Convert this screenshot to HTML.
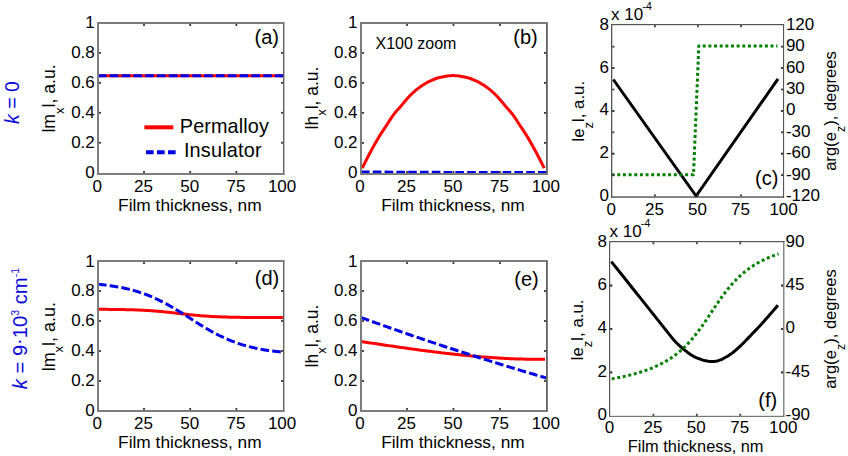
<!DOCTYPE html><html><head><meta charset="utf-8"><style>html,body{margin:0;padding:0;background:#fff;}svg{display:block;}</style></head><body>
<svg width="848" height="456" viewBox="0 0 848 456" font-family='"Liberation Sans", sans-serif' fill="#000">
<rect width="848" height="456" fill="#fff"/>
<polyline points="98.00,75.85 283.70,75.85" fill="none" stroke="#ff0000" stroke-width="3" stroke-linecap="butt" stroke-linejoin="round"/>
<polyline points="98.00,75.85 283.70,75.85" fill="none" stroke="#0000e6" stroke-width="3" stroke-dasharray="8.6 3.2" stroke-linecap="butt" stroke-linejoin="round"/>
<rect x="97" y="22" width="2" height="153" fill="#7c7c7c"/>
<rect x="283" y="22" width="1.4" height="153" fill="#606060"/>
<rect x="97" y="22" width="187.39999999999998" height="2" fill="#7c7c7c"/>
<rect x="97" y="173" width="187.39999999999998" height="2" fill="#7c7c7c"/>
<text x="97.30" y="192.30" font-size="17" text-anchor="middle">0</text>
<rect x="143.10" y="171" width="1.8" height="2" fill="#3a3a3a"/>
<rect x="143.10" y="24" width="1.8" height="2" fill="#3a3a3a"/>
<text x="143.50" y="192.30" font-size="17" text-anchor="middle">25</text>
<rect x="189.30" y="171" width="1.8" height="2" fill="#3a3a3a"/>
<rect x="189.30" y="24" width="1.8" height="2" fill="#3a3a3a"/>
<text x="189.70" y="192.30" font-size="17" text-anchor="middle">50</text>
<rect x="235.50" y="171" width="1.8" height="2" fill="#3a3a3a"/>
<rect x="235.50" y="24" width="1.8" height="2" fill="#3a3a3a"/>
<text x="235.90" y="192.30" font-size="17" text-anchor="middle">75</text>
<text x="282.10" y="192.30" font-size="17" text-anchor="middle">100</text>
<text x="94.80" y="178.10" font-size="17" text-anchor="end">0</text>
<rect x="99" y="141.84" width="2" height="1.8" fill="#3a3a3a"/>
<rect x="281" y="141.84" width="2" height="1.8" fill="#3a3a3a"/>
<text x="94.80" y="148.14" font-size="17" text-anchor="end">0.2</text>
<rect x="99" y="111.88" width="2" height="1.8" fill="#3a3a3a"/>
<rect x="281" y="111.88" width="2" height="1.8" fill="#3a3a3a"/>
<text x="94.80" y="118.18" font-size="17" text-anchor="end">0.4</text>
<rect x="99" y="81.92" width="2" height="1.8" fill="#3a3a3a"/>
<rect x="281" y="81.92" width="2" height="1.8" fill="#3a3a3a"/>
<text x="94.80" y="88.22" font-size="17" text-anchor="end">0.6</text>
<rect x="99" y="51.96" width="2" height="1.8" fill="#3a3a3a"/>
<rect x="281" y="51.96" width="2" height="1.8" fill="#3a3a3a"/>
<text x="94.80" y="58.26" font-size="17" text-anchor="end">0.8</text>
<text x="94.80" y="28.30" font-size="17" text-anchor="end">1</text>
<text x="189.85" y="211.00" font-size="17.35" text-anchor="middle">Film thickness, nm</text>
<text transform="translate(55.2,98.5) rotate(-90)" font-size="17.6" text-anchor="middle" fill="#000">lm<tspan dy="8.3" font-size="13">x</tspan><tspan dy="-8.3">l, a.u.</tspan></text>
<text x="279.00" y="44.06" font-size="20" text-anchor="end">(a)</text>
<polyline points="144.40,127.30 173.40,127.30" fill="none" stroke="#ff0000" stroke-width="4" stroke-linecap="butt" stroke-linejoin="round"/>
<polyline points="146.00,152.30 175.60,152.30" fill="none" stroke="#0000e6" stroke-width="4" stroke-dasharray="7.6 3.4" stroke-linecap="butt" stroke-linejoin="round"/>
<text x="179.8" y="132.7" font-size="19.85" letter-spacing="0.1">Permalloy</text>
<text x="183.9" y="157.2" font-size="19.85" letter-spacing="0.2">Insulator</text>
<text transform="translate(18.5,102.5) rotate(-90)" font-size="19.5" text-anchor="middle" fill="#0808d8"><tspan font-style="italic">k</tspan> = 0</text>
<polyline points="362.20,168.20 363.51,165.53 364.82,162.90 366.13,160.31 367.44,157.76 368.75,155.25 370.06,152.78 371.37,150.33 372.67,147.91 373.98,145.52 375.29,143.18 376.60,140.88 377.91,138.65 379.22,136.48 380.53,134.39 381.84,132.37 383.15,130.38 384.46,128.42 385.77,126.46 387.08,124.48 388.39,122.46 389.70,120.43 391.01,118.41 392.32,116.48 393.62,114.67 394.93,112.99 396.24,111.41 397.55,109.88 398.86,108.40 400.17,106.91 401.48,105.41 402.79,103.86 404.10,102.28 405.41,100.71 406.72,99.16 408.03,97.67 409.34,96.27 410.65,94.97 411.96,93.71 413.26,92.50 414.57,91.33 415.88,90.21 417.19,89.14 418.50,88.12 419.81,87.16 421.12,86.25 422.43,85.36 423.74,84.51 425.05,83.70 426.36,82.93 427.67,82.21 428.98,81.54 430.29,80.93 431.60,80.34 432.91,79.78 434.21,79.24 435.52,78.74 436.83,78.29 438.14,77.88 439.45,77.54 440.76,77.23 442.07,76.94 443.38,76.67 444.69,76.43 446.00,76.21 447.31,76.03 448.62,75.88 449.93,75.77 451.24,75.67 452.55,75.61 453.85,75.61 455.16,75.67 456.47,75.77 457.78,75.88 459.09,76.03 460.40,76.21 461.71,76.43 463.02,76.67 464.33,76.94 465.64,77.23 466.95,77.54 468.26,77.88 469.57,78.29 470.88,78.74 472.19,79.24 473.49,79.78 474.80,80.34 476.11,80.93 477.42,81.54 478.73,82.21 480.04,82.93 481.35,83.70 482.66,84.51 483.97,85.36 485.28,86.25 486.59,87.16 487.90,88.12 489.21,89.14 490.52,90.21 491.83,91.33 493.14,92.50 494.44,93.71 495.75,94.97 497.06,96.27 498.37,97.67 499.68,99.16 500.99,100.71 502.30,102.28 503.61,103.86 504.92,105.41 506.23,106.91 507.54,108.40 508.85,109.88 510.16,111.41 511.47,112.99 512.78,114.67 514.08,116.48 515.39,118.41 516.70,120.43 518.01,122.46 519.32,124.48 520.63,126.46 521.94,128.42 523.25,130.38 524.56,132.37 525.87,134.39 527.18,136.48 528.49,138.65 529.80,140.88 531.11,143.18 532.42,145.52 533.73,147.91 535.03,150.33 536.34,152.78 537.65,155.25 538.96,157.76 540.27,160.31 541.58,162.90 542.89,165.53 544.20,168.20" fill="none" stroke="#ff0000" stroke-width="3" stroke-linecap="butt" stroke-linejoin="round"/>
<polyline points="361.00,171.90 407.48,172.30 546.90,172.60" fill="none" stroke="#0000e6" stroke-width="3" stroke-dasharray="8.6 3.2" stroke-linecap="butt" stroke-linejoin="round"/>
<rect x="360" y="22" width="2" height="153" fill="#7c7c7c"/>
<rect x="546" y="22" width="1.8" height="153" fill="#606060"/>
<rect x="360" y="22" width="187.79999999999995" height="2" fill="#7c7c7c"/>
<rect x="360" y="173" width="187.79999999999995" height="2" fill="#7c7c7c"/>
<text x="360.05" y="192.30" font-size="17" text-anchor="middle">0</text>
<rect x="406.10" y="171" width="1.8" height="2" fill="#3a3a3a"/>
<rect x="406.10" y="24" width="1.8" height="2" fill="#3a3a3a"/>
<text x="406.50" y="192.30" font-size="17" text-anchor="middle">25</text>
<rect x="452.55" y="171" width="1.8" height="2" fill="#3a3a3a"/>
<rect x="452.55" y="24" width="1.8" height="2" fill="#3a3a3a"/>
<text x="452.95" y="192.30" font-size="17" text-anchor="middle">50</text>
<rect x="499.00" y="171" width="1.8" height="2" fill="#3a3a3a"/>
<rect x="499.00" y="24" width="1.8" height="2" fill="#3a3a3a"/>
<text x="499.40" y="192.30" font-size="17" text-anchor="middle">75</text>
<text x="545.85" y="192.30" font-size="17" text-anchor="middle">100</text>
<text x="357.55" y="178.30" font-size="17" text-anchor="end">0</text>
<rect x="362" y="142.00" width="2" height="1.8" fill="#3a3a3a"/>
<rect x="544" y="142.00" width="2" height="1.8" fill="#3a3a3a"/>
<text x="357.55" y="148.30" font-size="17" text-anchor="end">0.2</text>
<rect x="362" y="112.00" width="2" height="1.8" fill="#3a3a3a"/>
<rect x="544" y="112.00" width="2" height="1.8" fill="#3a3a3a"/>
<text x="357.55" y="118.30" font-size="17" text-anchor="end">0.4</text>
<rect x="362" y="82.00" width="2" height="1.8" fill="#3a3a3a"/>
<rect x="544" y="82.00" width="2" height="1.8" fill="#3a3a3a"/>
<text x="357.55" y="88.30" font-size="17" text-anchor="end">0.6</text>
<rect x="362" y="52.00" width="2" height="1.8" fill="#3a3a3a"/>
<rect x="544" y="52.00" width="2" height="1.8" fill="#3a3a3a"/>
<text x="357.55" y="58.30" font-size="17" text-anchor="end">0.8</text>
<text x="357.55" y="28.30" font-size="17" text-anchor="end">1</text>
<text x="452.95" y="211.00" font-size="17.35" text-anchor="middle">Film thickness, nm</text>
<text transform="translate(317.6,98) rotate(-90)" font-size="17.5" text-anchor="middle" fill="#000">lh<tspan dy="8.3" font-size="13">x</tspan><tspan dy="-8.3">l, a.u.</tspan></text>
<text x="537.70" y="44.46" font-size="20" text-anchor="end">(b)</text>
<text x="375.5" y="48.9" font-size="16">X100 zoom</text>
<polyline points="613.30,79.50 696.10,196.00 778.00,78.90" fill="none" stroke="#000" stroke-width="3" stroke-linecap="butt" stroke-linejoin="round"/>
<polyline points="611.65,174.80 693.50,174.80 698.80,46.00 777.50,46.00" fill="none" stroke="#008000" stroke-width="3" stroke-dasharray="3 2.65" stroke-linecap="butt" stroke-linejoin="round"/>
<rect x="611" y="24" width="1.3" height="173.70000000000002" fill="#555"/>
<rect x="783" y="24" width="1.1" height="173.70000000000002" fill="#555"/>
<rect x="611" y="24" width="173.10000000000002" height="1.2" fill="#555"/>
<rect x="611" y="196.4" width="173.10000000000002" height="1.3" fill="#444"/>
<text x="611.35" y="215.35" font-size="17" text-anchor="middle">0</text>
<rect x="654.01" y="194.4" width="1.8" height="2" fill="#3a3a3a"/>
<rect x="654.01" y="25.2" width="1.8" height="2" fill="#3a3a3a"/>
<text x="654.41" y="215.35" font-size="17" text-anchor="middle">25</text>
<rect x="697.08" y="194.4" width="1.8" height="2" fill="#3a3a3a"/>
<rect x="697.08" y="25.2" width="1.8" height="2" fill="#3a3a3a"/>
<text x="697.48" y="215.35" font-size="17" text-anchor="middle">50</text>
<rect x="740.14" y="194.4" width="1.8" height="2" fill="#3a3a3a"/>
<rect x="740.14" y="25.2" width="1.8" height="2" fill="#3a3a3a"/>
<text x="740.54" y="215.35" font-size="17" text-anchor="middle">75</text>
<text x="783.60" y="215.35" font-size="17" text-anchor="middle">100</text>
<text x="608.85" y="201.00" font-size="17" text-anchor="end">0</text>
<rect x="612.3" y="152.80" width="2" height="1.8" fill="#3a3a3a"/>
<rect x="781" y="152.80" width="2" height="1.8" fill="#3a3a3a"/>
<text x="608.85" y="158.20" font-size="17" text-anchor="end">2</text>
<rect x="612.3" y="110.00" width="2" height="1.8" fill="#3a3a3a"/>
<rect x="781" y="110.00" width="2" height="1.8" fill="#3a3a3a"/>
<text x="608.85" y="115.40" font-size="17" text-anchor="end">4</text>
<rect x="612.3" y="67.20" width="2" height="1.8" fill="#3a3a3a"/>
<rect x="781" y="67.20" width="2" height="1.8" fill="#3a3a3a"/>
<text x="608.85" y="72.60" font-size="17" text-anchor="end">6</text>
<text x="608.85" y="29.80" font-size="17" text-anchor="end">8</text>
<text x="785.90" y="201.00" font-size="17" text-anchor="start">-120</text>
<rect x="612.3" y="174.20" width="2" height="1.8" fill="#3a3a3a"/>
<rect x="781" y="174.20" width="2" height="1.8" fill="#3a3a3a"/>
<text x="785.90" y="179.60" font-size="17" text-anchor="start">-90</text>
<rect x="612.3" y="152.80" width="2" height="1.8" fill="#3a3a3a"/>
<rect x="781" y="152.80" width="2" height="1.8" fill="#3a3a3a"/>
<text x="785.90" y="158.20" font-size="17" text-anchor="start">-60</text>
<rect x="612.3" y="131.40" width="2" height="1.8" fill="#3a3a3a"/>
<rect x="781" y="131.40" width="2" height="1.8" fill="#3a3a3a"/>
<text x="785.90" y="136.80" font-size="17" text-anchor="start">-30</text>
<rect x="612.3" y="110.00" width="2" height="1.8" fill="#3a3a3a"/>
<rect x="781" y="110.00" width="2" height="1.8" fill="#3a3a3a"/>
<text x="785.90" y="115.40" font-size="17" text-anchor="start">0</text>
<rect x="612.3" y="88.60" width="2" height="1.8" fill="#3a3a3a"/>
<rect x="781" y="88.60" width="2" height="1.8" fill="#3a3a3a"/>
<text x="785.90" y="94.00" font-size="17" text-anchor="start">30</text>
<rect x="612.3" y="67.20" width="2" height="1.8" fill="#3a3a3a"/>
<rect x="781" y="67.20" width="2" height="1.8" fill="#3a3a3a"/>
<text x="785.90" y="72.60" font-size="17" text-anchor="start">60</text>
<rect x="612.3" y="45.80" width="2" height="1.8" fill="#3a3a3a"/>
<rect x="781" y="45.80" width="2" height="1.8" fill="#3a3a3a"/>
<text x="785.90" y="51.20" font-size="17" text-anchor="start">90</text>
<text x="785.90" y="29.80" font-size="17" text-anchor="start">120</text>
<text transform="translate(584.3,111.2) rotate(-90)" font-size="16.8" text-anchor="middle" fill="#000">le<tspan dy="8.3" font-size="13">z</tspan><tspan dy="-8.3">l, a.u.</tspan></text>
<text transform="translate(835.7,111) rotate(-90)" font-size="16.6" text-anchor="middle" fill="#000">arg(e<tspan dy="9" font-size="12.5">z</tspan><tspan dy="-9">), degrees</tspan></text>
<text x="778.30" y="185.16" font-size="20" text-anchor="end">(c)</text>
<text x="611" y="20" font-size="17">x 10<tspan dy="-10.3" dx="-1.0" font-size="11">-4</tspan></text>
<polyline points="98.00,309.30 99.55,309.31 101.09,309.32 102.64,309.33 104.19,309.34 105.74,309.35 107.28,309.36 108.83,309.38 110.38,309.40 111.93,309.41 113.47,309.43 115.02,309.45 116.57,309.47 118.12,309.50 119.66,309.52 121.21,309.55 122.76,309.58 124.31,309.61 125.86,309.65 127.40,309.68 128.95,309.72 130.50,309.77 132.04,309.81 133.59,309.86 135.14,309.92 136.69,309.97 138.24,310.04 139.78,310.10 141.33,310.17 142.88,310.25 144.43,310.33 145.97,310.41 147.52,310.50 149.07,310.60 150.61,310.70 152.16,310.81 153.71,310.92 155.26,311.04 156.81,311.16 158.35,311.29 159.90,311.43 161.45,311.57 163.00,311.72 164.54,311.87 166.09,312.03 167.64,312.19 169.19,312.35 170.73,312.52 172.28,312.69 173.83,312.87 175.38,313.05 176.92,313.22 178.47,313.40 180.02,313.58 181.56,313.76 183.11,313.93 184.66,314.11 186.21,314.28 187.75,314.45 189.30,314.62 190.85,314.78 192.40,314.94 193.94,315.09 195.49,315.24 197.04,315.38 198.59,315.52 200.13,315.65 201.68,315.78 203.23,315.90 204.78,316.01 206.32,316.12 207.87,316.22 209.42,316.32 210.97,316.41 212.51,316.50 214.06,316.58 215.61,316.66 217.16,316.73 218.70,316.79 220.25,316.86 221.80,316.92 223.35,316.97 224.89,317.02 226.44,317.07 227.99,317.11 229.54,317.15 231.09,317.19 232.63,317.23 234.18,317.26 235.73,317.29 237.28,317.32 238.82,317.34 240.37,317.37 241.92,317.39 243.46,317.41 245.01,317.43 246.56,317.45 248.11,317.46 249.66,317.48 251.20,317.49 252.75,317.50 254.30,317.51 255.84,317.53 257.39,317.54 258.94,317.54 260.49,317.55 262.03,317.56 263.58,317.57 265.13,317.57 266.68,317.58 268.23,317.59 269.77,317.59 271.32,317.60 272.87,317.60 274.41,317.60 275.96,317.61 277.51,317.61 279.06,317.61 280.60,317.62 282.15,317.62 283.70,317.62" fill="none" stroke="#ff0000" stroke-width="3" stroke-linecap="butt" stroke-linejoin="round"/>
<polyline points="98.00,284.22 99.55,284.37 101.09,284.53 102.64,284.70 104.19,284.88 105.74,285.07 107.28,285.26 108.83,285.47 110.38,285.69 111.93,285.91 113.47,286.15 115.02,286.40 116.57,286.66 118.12,286.93 119.66,287.22 121.21,287.52 122.76,287.83 124.31,288.16 125.86,288.50 127.40,288.86 128.95,289.23 130.50,289.62 132.04,290.02 133.59,290.44 135.14,290.88 136.69,291.34 138.24,291.81 139.78,292.31 141.33,292.82 142.88,293.35 144.43,293.91 145.97,294.48 147.52,295.07 149.07,295.68 150.61,296.31 152.16,296.97 153.71,297.64 155.26,298.33 156.81,299.05 158.35,299.78 159.90,300.54 161.45,301.31 163.00,302.11 164.54,302.92 166.09,303.75 167.64,304.60 169.19,305.46 170.73,306.35 172.28,307.24 173.83,308.15 175.38,309.08 176.92,310.01 178.47,310.96 180.02,311.92 181.56,312.89 183.11,313.86 184.66,314.84 186.21,315.83 187.75,316.81 189.30,317.80 190.85,318.79 192.40,319.78 193.94,320.77 195.49,321.75 197.04,322.73 198.59,323.70 200.13,324.67 201.68,325.62 203.23,326.57 204.78,327.50 206.32,328.42 207.87,329.32 209.42,330.22 210.97,331.09 212.51,331.95 214.06,332.79 215.61,333.62 217.16,334.42 218.70,335.21 220.25,335.98 221.80,336.72 223.35,337.45 224.89,338.16 226.44,338.85 227.99,339.51 229.54,340.16 231.09,340.78 232.63,341.39 234.18,341.97 235.73,342.54 237.28,343.08 238.82,343.61 240.37,344.11 241.92,344.60 243.46,345.07 245.01,345.52 246.56,345.95 248.11,346.37 249.66,346.77 251.20,347.15 252.75,347.51 254.30,347.87 255.84,348.20 257.39,348.52 258.94,348.83 260.49,349.13 262.03,349.41 263.58,349.67 265.13,349.93 266.68,350.18 268.23,350.41 269.77,350.63 271.32,350.84 272.87,351.05 274.41,351.24 275.96,351.42 277.51,351.60 279.06,351.77 280.60,351.92 282.15,352.08 283.70,352.22" fill="none" stroke="#0000e6" stroke-width="3" stroke-dasharray="8.6 3.2" stroke-linecap="butt" stroke-linejoin="round"/>
<rect x="97" y="260" width="2" height="152" fill="#7c7c7c"/>
<rect x="283" y="260" width="1.4" height="152" fill="#606060"/>
<rect x="97" y="260" width="187.39999999999998" height="2" fill="#7c7c7c"/>
<rect x="97" y="410" width="187.39999999999998" height="2" fill="#7c7c7c"/>
<text x="97.30" y="429.30" font-size="17" text-anchor="middle">0</text>
<rect x="143.10" y="408" width="1.8" height="2" fill="#3a3a3a"/>
<rect x="143.10" y="262" width="1.8" height="2" fill="#3a3a3a"/>
<text x="143.50" y="429.30" font-size="17" text-anchor="middle">25</text>
<rect x="189.30" y="408" width="1.8" height="2" fill="#3a3a3a"/>
<rect x="189.30" y="262" width="1.8" height="2" fill="#3a3a3a"/>
<text x="189.70" y="429.30" font-size="17" text-anchor="middle">50</text>
<rect x="235.50" y="408" width="1.8" height="2" fill="#3a3a3a"/>
<rect x="235.50" y="262" width="1.8" height="2" fill="#3a3a3a"/>
<text x="235.90" y="429.30" font-size="17" text-anchor="middle">75</text>
<text x="282.10" y="429.30" font-size="17" text-anchor="middle">100</text>
<text x="94.80" y="416.30" font-size="17" text-anchor="end">0</text>
<rect x="99" y="380.04" width="2" height="1.8" fill="#3a3a3a"/>
<rect x="281" y="380.04" width="2" height="1.8" fill="#3a3a3a"/>
<text x="94.80" y="386.34" font-size="17" text-anchor="end">0.2</text>
<rect x="99" y="350.08" width="2" height="1.8" fill="#3a3a3a"/>
<rect x="281" y="350.08" width="2" height="1.8" fill="#3a3a3a"/>
<text x="94.80" y="356.38" font-size="17" text-anchor="end">0.4</text>
<rect x="99" y="320.12" width="2" height="1.8" fill="#3a3a3a"/>
<rect x="281" y="320.12" width="2" height="1.8" fill="#3a3a3a"/>
<text x="94.80" y="326.42" font-size="17" text-anchor="end">0.6</text>
<rect x="99" y="290.16" width="2" height="1.8" fill="#3a3a3a"/>
<rect x="281" y="290.16" width="2" height="1.8" fill="#3a3a3a"/>
<text x="94.80" y="296.46" font-size="17" text-anchor="end">0.8</text>
<text x="94.80" y="266.50" font-size="17" text-anchor="end">1</text>
<text x="189.85" y="448.00" font-size="17.35" text-anchor="middle">Film thickness, nm</text>
<text transform="translate(55.0,336.7) rotate(-90)" font-size="17.9" text-anchor="middle" fill="#000">lm<tspan dy="8.3" font-size="13">x</tspan><tspan dy="-8.3">l, a.u.</tspan></text>
<text x="279.20" y="284.76" font-size="20" text-anchor="end">(d)</text>
<text transform="translate(26.5,328.6) rotate(-90)" font-size="20.2" text-anchor="middle" fill="#0808d8"><tspan font-style="italic">k</tspan> = 9<tspan dy="-1.3">·</tspan><tspan dy="1.3">10</tspan><tspan dy="-7.5" font-size="10.5">3</tspan><tspan dy="7.5"> cm</tspan><tspan dy="-7.5" font-size="10.5">-1</tspan></text>
<polyline points="361.00,341.53 362.53,341.76 364.07,341.99 365.60,342.22 367.13,342.45 368.67,342.68 370.20,342.91 371.74,343.14 373.27,343.37 374.80,343.60 376.34,343.83 377.87,344.06 379.40,344.29 380.94,344.51 382.47,344.74 384.01,344.97 385.54,345.19 387.07,345.42 388.61,345.64 390.14,345.87 391.67,346.09 393.21,346.31 394.74,346.54 396.27,346.76 397.81,346.98 399.34,347.20 400.88,347.42 402.41,347.63 403.94,347.85 405.48,348.07 407.01,348.28 408.54,348.50 410.08,348.71 411.61,348.92 413.14,349.13 414.68,349.34 416.21,349.55 417.75,349.75 419.28,349.96 420.81,350.16 422.35,350.37 423.88,350.57 425.41,350.77 426.95,350.97 428.48,351.16 430.02,351.36 431.55,351.55 433.08,351.75 434.62,351.94 436.15,352.13 437.68,352.32 439.22,352.50 440.75,352.69 442.28,352.87 443.82,353.05 445.35,353.23 446.89,353.40 448.42,353.58 449.95,353.75 451.49,353.92 453.02,354.09 454.55,354.26 456.09,354.42 457.62,354.59 459.16,354.75 460.69,354.91 462.22,355.06 463.76,355.22 465.29,355.37 466.82,355.52 468.36,355.66 469.89,355.81 471.42,355.95 472.96,356.09 474.49,356.23 476.03,356.36 477.56,356.50 479.09,356.62 480.63,356.75 482.16,356.88 483.69,357.00 485.23,357.12 486.76,357.23 488.30,357.35 489.83,357.46 491.36,357.57 492.90,357.67 494.43,357.77 495.96,357.87 497.50,357.97 499.03,358.06 500.56,358.15 502.10,358.24 503.63,358.32 505.17,358.40 506.70,358.48 508.23,358.56 509.77,358.63 511.30,358.69 512.83,358.76 514.37,358.82 515.90,358.88 517.43,358.93 518.97,358.98 520.50,359.03 522.04,359.08 523.57,359.12 525.10,359.15 526.64,359.19 528.17,359.22 529.70,359.24 531.24,359.26 532.77,359.28 534.31,359.30 535.84,359.31 537.37,359.32 538.91,359.32 540.44,359.32 541.97,359.31 543.51,359.30 545.04,359.29" fill="none" stroke="#ff0000" stroke-width="3" stroke-linecap="butt" stroke-linejoin="round"/>
<polyline points="361.00,317.52 362.55,318.08 364.10,318.64 365.65,319.20 367.20,319.76 368.75,320.32 370.30,320.88 371.84,321.43 373.39,321.99 374.94,322.54 376.49,323.09 378.04,323.65 379.59,324.20 381.14,324.75 382.69,325.30 384.24,325.84 385.79,326.39 387.34,326.94 388.88,327.48 390.43,328.03 391.98,328.57 393.53,329.11 395.08,329.66 396.63,330.20 398.18,330.74 399.73,331.28 401.28,331.81 402.83,332.35 404.38,332.89 405.93,333.42 407.48,333.96 409.02,334.49 410.57,335.02 412.12,335.55 413.67,336.08 415.22,336.61 416.77,337.14 418.32,337.67 419.87,338.19 421.42,338.72 422.97,339.24 424.52,339.77 426.06,340.29 427.61,340.81 429.16,341.33 430.71,341.85 432.26,342.37 433.81,342.89 435.36,343.41 436.91,343.92 438.46,344.44 440.01,344.95 441.56,345.46 443.11,345.98 444.65,346.49 446.20,347.00 447.75,347.51 449.30,348.02 450.85,348.52 452.40,349.03 453.95,349.54 455.50,350.04 457.05,350.54 458.60,351.05 460.15,351.55 461.70,352.05 463.25,352.55 464.79,353.05 466.34,353.55 467.89,354.04 469.44,354.54 470.99,355.03 472.54,355.53 474.09,356.02 475.64,356.51 477.19,357.00 478.74,357.49 480.29,357.98 481.83,358.47 483.38,358.96 484.93,359.45 486.48,359.93 488.03,360.42 489.58,360.90 491.13,361.38 492.68,361.86 494.23,362.35 495.78,362.83 497.33,363.30 498.88,363.78 500.42,364.26 501.97,364.74 503.52,365.21 505.07,365.68 506.62,366.16 508.17,366.63 509.72,367.10 511.27,367.57 512.82,368.04 514.37,368.51 515.92,368.98 517.47,369.44 519.01,369.91 520.56,370.37 522.11,370.84 523.66,371.30 525.21,371.76 526.76,372.22 528.31,372.68 529.86,373.14 531.41,373.60 532.96,374.06 534.51,374.51 536.06,374.97 537.61,375.42 539.15,375.88 540.70,376.33 542.25,376.78 543.80,377.23 545.35,377.68 546.90,378.13" fill="none" stroke="#0000e6" stroke-width="3" stroke-dasharray="8.6 3.2" stroke-linecap="butt" stroke-linejoin="round"/>
<rect x="360" y="260" width="2" height="152" fill="#7c7c7c"/>
<rect x="546" y="260" width="1.8" height="152" fill="#606060"/>
<rect x="360" y="260" width="187.79999999999995" height="2" fill="#7c7c7c"/>
<rect x="360" y="410" width="187.79999999999995" height="2" fill="#7c7c7c"/>
<text x="360.05" y="429.30" font-size="17" text-anchor="middle">0</text>
<rect x="406.10" y="408" width="1.8" height="2" fill="#3a3a3a"/>
<rect x="406.10" y="262" width="1.8" height="2" fill="#3a3a3a"/>
<text x="406.50" y="429.30" font-size="17" text-anchor="middle">25</text>
<rect x="452.55" y="408" width="1.8" height="2" fill="#3a3a3a"/>
<rect x="452.55" y="262" width="1.8" height="2" fill="#3a3a3a"/>
<text x="452.95" y="429.30" font-size="17" text-anchor="middle">50</text>
<rect x="499.00" y="408" width="1.8" height="2" fill="#3a3a3a"/>
<rect x="499.00" y="262" width="1.8" height="2" fill="#3a3a3a"/>
<text x="499.40" y="429.30" font-size="17" text-anchor="middle">75</text>
<text x="545.85" y="429.30" font-size="17" text-anchor="middle">100</text>
<text x="357.55" y="416.30" font-size="17" text-anchor="end">0</text>
<rect x="362" y="380.04" width="2" height="1.8" fill="#3a3a3a"/>
<rect x="544" y="380.04" width="2" height="1.8" fill="#3a3a3a"/>
<text x="357.55" y="386.34" font-size="17" text-anchor="end">0.2</text>
<rect x="362" y="350.08" width="2" height="1.8" fill="#3a3a3a"/>
<rect x="544" y="350.08" width="2" height="1.8" fill="#3a3a3a"/>
<text x="357.55" y="356.38" font-size="17" text-anchor="end">0.4</text>
<rect x="362" y="320.12" width="2" height="1.8" fill="#3a3a3a"/>
<rect x="544" y="320.12" width="2" height="1.8" fill="#3a3a3a"/>
<text x="357.55" y="326.42" font-size="17" text-anchor="end">0.6</text>
<rect x="362" y="290.16" width="2" height="1.8" fill="#3a3a3a"/>
<rect x="544" y="290.16" width="2" height="1.8" fill="#3a3a3a"/>
<text x="357.55" y="296.46" font-size="17" text-anchor="end">0.8</text>
<text x="357.55" y="266.50" font-size="17" text-anchor="end">1</text>
<text x="452.95" y="448.00" font-size="17.35" text-anchor="middle">Film thickness, nm</text>
<text transform="translate(317.6,336) rotate(-90)" font-size="17.5" text-anchor="middle" fill="#000">lh<tspan dy="8.3" font-size="13">x</tspan><tspan dy="-8.3">l, a.u.</tspan></text>
<text x="538.70" y="285.56" font-size="20" text-anchor="end">(e)</text>
<polyline points="611.34,261.59 612.73,263.34 614.12,265.08 615.51,266.82 616.90,268.56 618.29,270.31 619.67,272.05 621.06,273.79 622.45,275.53 623.84,277.28 625.23,279.02 626.62,280.76 628.01,282.50 629.40,284.25 630.79,285.99 632.17,287.73 633.56,289.47 634.95,291.22 636.34,292.96 637.73,294.70 639.12,296.44 640.51,298.19 641.90,299.93 643.28,301.67 644.67,303.41 646.06,305.16 647.45,306.90 648.84,308.64 650.23,310.37 651.62,312.11 653.01,313.85 654.40,315.59 655.78,317.33 657.17,319.08 658.56,320.82 659.95,322.57 661.34,324.32 662.73,326.08 664.12,327.85 665.51,329.62 666.90,331.40 668.28,333.16 669.67,334.89 671.06,336.63 672.45,338.37 673.84,340.04 675.23,341.58 676.62,342.97 678.01,344.28 679.39,345.54 680.78,346.78 682.17,347.99 683.56,349.16 684.95,350.29 686.34,351.40 687.73,352.48 689.12,353.50 690.51,354.44 691.89,355.35 693.28,356.19 694.67,356.93 696.06,357.56 697.45,358.13 698.84,358.65 700.23,359.14 701.62,359.62 703.01,360.07 704.39,360.46 705.78,360.77 707.17,361.06 708.56,361.31 709.95,361.44 711.34,361.44 712.73,361.42 714.12,361.38 715.50,361.33 716.89,361.10 718.28,360.70 719.67,360.21 721.06,359.69 722.45,359.03 723.84,358.29 725.23,357.53 726.62,356.75 728.00,355.92 729.39,355.04 730.78,354.10 732.17,353.09 733.56,352.01 734.95,350.88 736.34,349.70 737.73,348.47 739.12,347.18 740.50,345.87 741.89,344.51 743.28,343.11 744.67,341.70 746.06,340.28 747.45,338.84 748.84,337.39 750.23,335.94 751.61,334.49 753.00,333.04 754.39,331.59 755.78,330.14 757.17,328.69 758.56,327.22 759.95,325.74 761.34,324.24 762.73,322.72 764.11,321.17 765.50,319.61 766.89,318.03 768.28,316.44 769.67,314.84 771.06,313.23 772.45,311.62 773.84,310.01 775.23,308.40 776.61,306.80 778.00,305.20" fill="none" stroke="#000" stroke-width="3" stroke-linecap="butt" stroke-linejoin="round"/>
<polyline points="611.69,378.86 613.08,378.62 614.47,378.36 615.86,378.10 617.25,377.84 618.64,377.57 620.03,377.29 621.42,377.00 622.81,376.70 624.20,376.40 625.59,376.09 626.98,375.77 628.37,375.44 629.76,375.10 631.15,374.75 632.54,374.39 633.93,374.02 635.32,373.64 636.72,373.25 638.11,372.84 639.50,372.43 640.89,372.00 642.28,371.56 643.67,371.10 645.06,370.63 646.45,370.14 647.84,369.63 649.23,369.11 650.62,368.57 652.01,368.02 653.40,367.44 654.79,366.84 656.18,366.22 657.57,365.58 658.96,364.92 660.35,364.23 661.74,363.52 663.13,362.78 664.52,362.01 665.91,361.22 667.30,360.39 668.69,359.53 670.08,358.64 671.47,357.71 672.86,356.75 674.25,355.75 675.64,354.71 677.03,353.63 678.42,352.51 679.81,351.34 681.20,350.13 682.59,348.87 683.99,347.57 685.38,346.21 686.77,344.81 688.16,343.35 689.55,341.85 690.94,340.29 692.33,338.67 693.72,337.01 695.11,335.30 696.50,333.53 697.89,331.72 699.28,329.86 700.67,327.96 702.06,326.02 703.45,324.04 704.84,322.04 706.23,320.00 707.62,317.94 709.01,315.87 710.40,313.78 711.79,311.70 713.18,309.61 714.57,307.53 715.96,305.47 717.35,303.43 718.74,301.41 720.13,299.42 721.52,297.47 722.91,295.55 724.30,293.68 725.69,291.85 727.08,290.07 728.47,288.34 729.87,286.66 731.26,285.03 732.65,283.46 734.04,281.93 735.43,280.46 736.82,279.04 738.21,277.67 739.60,276.34 740.99,275.07 742.38,273.84 743.77,272.66 745.16,271.53 746.55,270.43 747.94,269.38 749.33,268.37 750.72,267.39 752.11,266.45 753.50,265.55 754.89,264.68 756.28,263.84 757.67,263.04 759.06,262.26 760.45,261.51 761.84,260.79 763.23,260.09 764.62,259.42 766.01,258.78 767.40,258.15 768.79,257.55 770.18,256.96 771.57,256.40 772.96,255.85 774.35,255.33 775.74,254.82 777.14,254.33 778.53,253.85" fill="none" stroke="#008000" stroke-width="3" stroke-dasharray="3 2.65" stroke-linecap="butt" stroke-linejoin="round"/>
<rect x="609" y="241" width="1.2" height="176.0" fill="#555"/>
<rect x="783" y="241" width="1.5" height="176.0" fill="#888"/>
<rect x="609" y="241" width="175.5" height="1.2" fill="#555"/>
<rect x="609" y="415.8" width="175.5" height="1.2" fill="#777"/>
<text x="609.45" y="433.20" font-size="17" text-anchor="middle">0</text>
<rect x="652.49" y="413.8" width="1.8" height="2" fill="#3a3a3a"/>
<rect x="652.49" y="242.2" width="1.8" height="2" fill="#3a3a3a"/>
<text x="652.89" y="433.20" font-size="17" text-anchor="middle">25</text>
<rect x="695.93" y="413.8" width="1.8" height="2" fill="#3a3a3a"/>
<rect x="695.93" y="242.2" width="1.8" height="2" fill="#3a3a3a"/>
<text x="696.33" y="433.20" font-size="17" text-anchor="middle">50</text>
<rect x="739.36" y="413.8" width="1.8" height="2" fill="#3a3a3a"/>
<rect x="739.36" y="242.2" width="1.8" height="2" fill="#3a3a3a"/>
<text x="739.76" y="433.20" font-size="17" text-anchor="middle">75</text>
<text x="783.20" y="433.20" font-size="17" text-anchor="middle">100</text>
<text x="695.67" y="451.60" font-size="16.4" text-anchor="middle">Film thickness, nm</text>
<text x="606.95" y="420.35" font-size="17" text-anchor="end">0</text>
<rect x="610.2" y="371.51" width="2" height="1.8" fill="#3a3a3a"/>
<rect x="781" y="371.51" width="2" height="1.8" fill="#3a3a3a"/>
<text x="606.95" y="376.91" font-size="17" text-anchor="end">2</text>
<rect x="610.2" y="328.08" width="2" height="1.8" fill="#3a3a3a"/>
<rect x="781" y="328.08" width="2" height="1.8" fill="#3a3a3a"/>
<text x="606.95" y="333.48" font-size="17" text-anchor="end">4</text>
<rect x="610.2" y="284.64" width="2" height="1.8" fill="#3a3a3a"/>
<rect x="781" y="284.64" width="2" height="1.8" fill="#3a3a3a"/>
<text x="606.95" y="290.04" font-size="17" text-anchor="end">6</text>
<text x="606.95" y="246.60" font-size="17" text-anchor="end">8</text>
<text x="785.50" y="420.35" font-size="17" text-anchor="start">-90</text>
<rect x="610.2" y="371.51" width="2" height="1.8" fill="#3a3a3a"/>
<rect x="781" y="371.51" width="2" height="1.8" fill="#3a3a3a"/>
<text x="785.50" y="376.91" font-size="17" text-anchor="start">-45</text>
<rect x="610.2" y="328.08" width="2" height="1.8" fill="#3a3a3a"/>
<rect x="781" y="328.08" width="2" height="1.8" fill="#3a3a3a"/>
<text x="785.50" y="333.48" font-size="17" text-anchor="start">0</text>
<rect x="610.2" y="284.64" width="2" height="1.8" fill="#3a3a3a"/>
<rect x="781" y="284.64" width="2" height="1.8" fill="#3a3a3a"/>
<text x="785.50" y="290.04" font-size="17" text-anchor="start">45</text>
<text x="785.50" y="246.60" font-size="17" text-anchor="start">90</text>
<text transform="translate(583.4,329.9) rotate(-90)" font-size="16.8" text-anchor="middle" fill="#000">le<tspan dy="8.3" font-size="13">z</tspan><tspan dy="-8.3">l, a.u.</tspan></text>
<text transform="translate(835.7,329) rotate(-90)" font-size="16.6" text-anchor="middle" fill="#000">arg(e<tspan dy="9" font-size="12.5">z</tspan><tspan dy="-9">), degrees</tspan></text>
<text x="777.20" y="407.46" font-size="20" text-anchor="end">(f)</text>
<text x="609.5" y="236.9" font-size="17">x 10<tspan dy="-10.3" dx="-1.0" font-size="11">-4</tspan></text>
</svg></body></html>
